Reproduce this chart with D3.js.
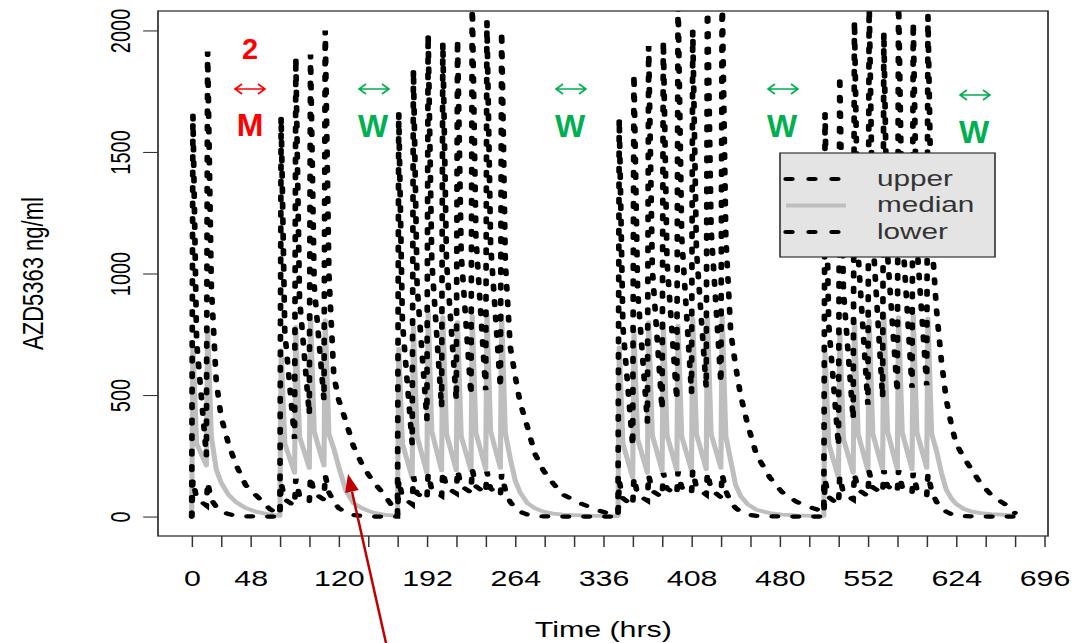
<!DOCTYPE html>
<html>
<head>
<meta charset="utf-8">
<script src="https://cdn.jsdelivr.net/npm/d3@7"></script>
<style>
  body { margin: 0; background: #fff; }
  text { font-family: "Liberation Sans", Arial, sans-serif; }
</style>
</head>
<body>
<svg id="chart" width="1084" height="643"></svg>
<script>
// simulated AZD5363 concentration, 5 dosing blocks
var hours = [
  0, 1, 4, 12, 13, 16, 20, 24, 30, 36, 44, 54, 64,
  72, 73, 76, 84, 85, 88, 96, 97, 100, 108, 109, 112, 116, 120, 126, 132, 140, 148, 158,
  168, 169, 172, 180, 181, 184, 192, 193, 196, 204, 205, 208, 216, 217, 220, 228, 229, 232, 240, 241, 244, 252, 253, 256,
  260, 264, 268, 274, 280, 287, 295, 303, 317, 331, 342,
  348, 349, 352, 360, 361, 364, 372, 373, 376, 384, 385, 388, 396, 397, 400, 408, 409, 412, 420, 421, 424, 432, 433, 436,
  440, 444, 448, 454, 461, 472, 482, 494, 507,
  516, 517, 520, 528, 529, 532, 540, 541, 544, 552, 553, 556, 564, 565, 568, 576, 577, 580, 588, 589, 592, 600, 601, 604,
  608, 612, 616, 620, 624, 630, 637, 644, 653, 665, 672
];

var upper = [
  0, 1654, 720, 250, 1913, 950, 560, 410, 300, 215, 130, 80, 30,
  8, 1645, 760, 320, 1889, 900, 420, 1901, 950, 480, 2000, 1000, 580, 480, 390, 290, 205, 145, 85,
  10, 1662, 800, 300, 1839, 950, 400, 1983, 1050, 450, 1950, 1050, 480, 1963, 1080, 500, 2120, 1150, 520, 2037, 1120, 530, 1996, 1050,
  700, 580, 470, 370, 260, 190, 137, 90, 55, 27, 10,
  8, 1637, 780, 290, 1820, 930, 390, 1936, 1020, 440, 1957, 1050, 480, 2130, 1150, 510, 2000, 1100, 530, 2140, 1180, 550, 2150, 1150,
  760, 620, 500, 375, 255, 160, 100, 60, 35,
  20, 1657, 790, 290, 1813, 930, 400, 2039, 1080, 460, 2120, 1150, 490, 1992, 1080, 510, 2130, 1180, 530, 2033, 1120, 540, 2060, 1150,
  850, 640, 480, 380, 300, 245, 190, 137, 87, 47, 15
];

var median = [
  0, 697, 300, 210, 775, 330, 195, 140, 90, 60, 35, 18, 8,
  3, 685, 300, 180, 780, 330, 200, 827, 350, 210, 808, 340, 280, 205, 105, 55, 32, 16, 7,
  3, 690, 300, 160, 780, 330, 180, 848, 350, 190, 820, 340, 190, 800, 330, 190, 826, 345, 195, 834, 350, 200, 826, 345,
  240, 150, 100, 55, 35, 20, 12, 8, 5, 3, 2,
  2, 696, 300, 160, 766, 320, 180, 800, 335, 190, 795, 335, 190, 785, 330, 190, 815, 340, 195, 815, 340, 200, 826, 330,
  230, 130, 85, 50, 28, 14, 8, 5, 3,
  3, 675, 300, 160, 757, 320, 180, 806, 340, 190, 806, 340, 195, 834, 350, 195, 820, 345, 195, 826, 345, 200, 815, 340,
  270, 180, 110, 75, 52, 32, 20, 14, 10, 7, 6
];

var lower = [
  0, 150, 75, 45, 140, 70, 40, 22, 10, 4, 1, 0, 0,
  0, 140, 70, 45, 155, 85, 60, 165, 95, 70, 170, 100, 60, 35, 15, 6, 2, 0, 0,
  0, 150, 80, 50, 165, 95, 70, 175, 110, 85, 185, 120, 95, 190, 125, 100, 195, 125, 95, 185, 115, 85, 175, 110,
  60, 35, 20, 8, 3, 1, 0, 0, 0, 0, 0,
  0, 145, 75, 45, 160, 90, 65, 170, 105, 80, 180, 115, 90, 185, 120, 95, 190, 120, 90, 180, 110, 80, 175, 105,
  60, 35, 20, 8, 3, 1, 0, 0, 0,
  0, 150, 80, 50, 165, 95, 70, 175, 110, 85, 185, 120, 95, 190, 125, 100, 190, 120, 95, 180, 110, 85, 175, 105,
  60, 35, 20, 10, 5, 2, 1, 0, 0, 0, 0
];

var xTicks = d3.range(0, 697, 24);
var xTickLabels = [0, 48, 120, 192, 264, 336, 408, 480, 552, 624, 696];
var yTicks = [0, 500, 1000, 1500, 2000];
var legendLabels = ["upper", "median", "lower"];

var red = "#ff0000", green = "#00b050";

// the original figure was stretched sideways, so draw the R plot in a squeezed group
var SX = 1.35;
var svg = d3.select("#chart");
var g = svg.append("g").attr("transform", "scale(" + SX + ",1)");

var plotLeft = 158, plotRight = 1048, plotTop = 11, plotBottom = 536;

var x = d3.scaleLinear().domain([-27.5, 699]).range([plotLeft / SX, plotRight / SX]);
var y = d3.scaleLinear().domain([-80, 2080]).range([plotBottom, plotTop]);

g.append("clipPath").attr("id", "plotclip")
  .append("rect")
  .attr("x", plotLeft / SX).attr("y", plotTop)
  .attr("width", (plotRight - plotLeft) / SX).attr("height", plotBottom - plotTop);

var line = d3.line()
  .x(function (d) { return x(d[0]); })
  .y(function (d) { return y(d[1]); });

function pts(vals) {
  return hours.map(function (h, i) { return [h, vals[i]]; });
}

var dotted = "4 11.5";

var lines = g.append("g").attr("clip-path", "url(#plotclip)");

lines.append("path")
  .attr("d", line(pts(median)))
  .attr("fill", "none")
  .attr("stroke", "#bebebe")
  .attr("stroke-width", 3.8)
  .attr("stroke-linejoin", "round");

[upper, lower].forEach(function (vals) {
  lines.append("path")
    .attr("d", line(pts(vals)))
    .attr("fill", "none")
    .attr("stroke", "#000")
    .attr("stroke-width", 4.2)
    .attr("stroke-dasharray", dotted)
    .attr("stroke-linecap", "round");
});

// box
g.append("rect")
  .attr("x", plotLeft / SX).attr("y", plotTop)
  .attr("width", (plotRight - plotLeft) / SX).attr("height", plotBottom - plotTop)
  .attr("fill", "none")
  .attr("stroke", "#333")
  .attr("stroke-width", 1.3);

// x axis
var xAxis = g.append("g")
  .attr("transform", "translate(0," + plotBottom + ")")
  .call(d3.axisBottom(x)
    .tickValues(xTicks)
    .tickSize(11)
    .tickFormat(function (d) { return xTickLabels.indexOf(d) >= 0 ? d : ""; }));
xAxis.select(".domain").remove();
xAxis.selectAll("line").attr("stroke", "#333").attr("stroke-width", 1.1);
xAxis.selectAll("text")
  .attr("y", 50).attr("dy", 0)
  .attr("fill", "#000")
  .style("font-size", "22.5px")
  .style("font-family", "'Liberation Sans', Arial, sans-serif");

// y axis
var yAxis = g.append("g")
  .attr("transform", "translate(" + (plotLeft / SX) + ",0)")
  .call(d3.axisLeft(y).tickValues(yTicks).tickSize(11).tickFormat(d3.format("d")));
yAxis.select(".domain").remove();
yAxis.selectAll("line").attr("stroke", "#333").attr("stroke-width", 1.1);
yAxis.selectAll("text")
  .attr("x", null).attr("dy", null)
  .attr("text-anchor", "middle")
  .attr("transform", "translate(" + ((130 - plotLeft) / SX) + ",0) rotate(-90)")
  .attr("fill", "#000")
  .style("font-size", "20px")
  .style("font-family", "'Liberation Sans', Arial, sans-serif");

// axis titles
g.append("text")
  .attr("x", x(336))
  .attr("y", 637)
  .attr("text-anchor", "middle")
  .attr("fill", "#000")
  .style("font-size", "22.5px")
  .text("Time (hrs)");

g.append("text")
  .attr("transform", "translate(" + (43 / SX) + "," + ((plotTop + plotBottom) / 2) + ") rotate(-90)")
  .attr("text-anchor", "middle")
  .attr("fill", "#000")
  .style("font-size", "22px")
  .text("AZD5363 ng/ml");

// legend
var legend = g.append("g");
legend.append("rect")
  .attr("x", 780 / SX).attr("y", 153)
  .attr("width", 215 / SX).attr("height", 104)
  .attr("fill", "#e4e4e4")
  .attr("stroke", "#333")
  .attr("stroke-width", 1.2);

var legendRows = legend.selectAll(".row")
  .data(legendLabels)
  .enter().append("g")
  .attr("class", "row")
  .attr("transform", function (d, i) { return "translate(0," + (i * 26.5) + ")"; });

legendRows.append("line")
  .attr("x1", 786 / SX).attr("x2", 846 / SX)
  .attr("y1", 179).attr("y2", 179)
  .attr("stroke", function (d) { return d === "median" ? "#bebebe" : "#000"; })
  .attr("stroke-width", function (d) { return d === "median" ? 3.8 : 4; })
  .attr("stroke-dasharray", function (d) { return d === "median" ? null : "4.5 12.5"; })
  .attr("stroke-linecap", function (d) { return d === "median" ? "butt" : "round"; });

legendRows.append("text")
  .attr("x", 877 / SX)
  .attr("y", 186)
  .attr("fill", "#333")
  .style("font-size", "22px")
  .text(function (d) { return d; });

// slide annotations drawn on top of the plot (not stretched)
function dblArrow(cx, cy, color) {
  var half = 15, head = 7, hw = 5;
  var p = d3.path();
  p.moveTo(cx - half, cy); p.lineTo(cx + half, cy);
  p.moveTo(cx - half + head, cy - hw); p.lineTo(cx - half, cy); p.lineTo(cx - half + head, cy + hw);
  p.moveTo(cx + half - head, cy - hw); p.lineTo(cx + half, cy); p.lineTo(cx + half - head, cy + hw);
  svg.append("path")
    .attr("d", p.toString())
    .attr("fill", "none")
    .attr("stroke", color)
    .attr("stroke-width", 1.6);
}

function label(txt, cx, base, size, color) {
  svg.append("text")
    .attr("x", cx).attr("y", base)
    .attr("text-anchor", "middle")
    .attr("fill", color)
    .style("font-size", size + "px")
    .style("font-weight", "bold")
    .text(txt);
}

label("2", 250, 59, 29, red);
dblArrow(250, 89, red);
label("M", 250, 136, 32, red);

[[373, 0], [570, 0], [782, 0], [974, 6]].forEach(function (w) {
  dblArrow(w[0] + 1, 89 + w[1], green);
  label("W", w[0], 137 + w[1], 32, green);
});

// red pointer arrow from below
var tip = [348, 474], tail = [386, 643];
var ang = Math.atan2(tip[1] - tail[1], tip[0] - tail[0]);
var hl = 18, hwid = 7;
var bx = tip[0] - hl * Math.cos(ang), by = tip[1] - hl * Math.sin(ang);
svg.append("line")
  .attr("x1", tail[0]).attr("y1", tail[1])
  .attr("x2", bx).attr("y2", by)
  .attr("stroke", "#c00000")
  .attr("stroke-width", 2.5);
svg.append("path")
  .attr("d", "M" + tip[0] + "," + tip[1] +
    "L" + (bx + hwid * Math.sin(ang)) + "," + (by - hwid * Math.cos(ang)) +
    "L" + (bx - hwid * Math.sin(ang)) + "," + (by + hwid * Math.cos(ang)) + "Z")
  .attr("fill", "#c00000");
</script>
</body>
</html>
